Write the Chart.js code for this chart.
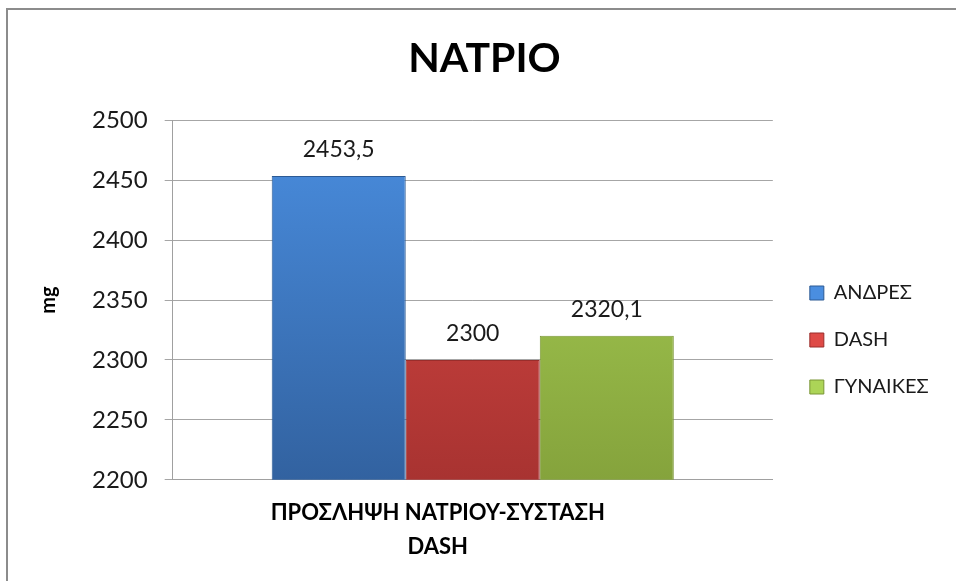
<!DOCTYPE html>
<html>
<head>
<meta charset="utf-8">
<script src="https://cdn.jsdelivr.net/npm/chart.js@4"></script>
<style>
  html, body { margin: 0; padding: 0; background: #fff; overflow: hidden; }
  #frame { position: absolute; left: 6px; top: 8px; width: 1000px; height: 700px; border: 2px solid #8c8c8c; }
  #wrap { position: absolute; left: 0; top: 0; width: 956px; height: 581px; }
</style>
</head>
<body>
<div id="frame"></div>
<div id="wrap"><canvas id="chart1"></canvas></div>
<script>
// data
var categorias = [['ΠΡΟΣΛΗΨΗ ΝΑΤΡΙΟΥ-ΣΥΣΤΑΣΗ', 'DASH']];
var seriesNames = ['ΑΝΔΡΕΣ', 'DASH', 'ΓΥΝΑΙΚΕΣ'];
var andres = [2453.5];
var dash = [2300];
var gynaikes = [2320.1];
var yTicks = [2200, 2250, 2300, 2350, 2400, 2450, 2500];

var topColors = ['#4a8ee0', '#de4a46', '#acd457'];
var botColors = ['#3262a0', '#a83331', '#85a33c'];
var lineColors = ['#2c5a94', '#9a2d2b', '#7a9636'];

function grad(i) {
    return function (ctx) {
        var chart = ctx.chart;
        var area = chart.chartArea;
        if (!area) return topColors[i];
        var g = chart.ctx.createLinearGradient(0, area.top, 0, area.bottom);
        g.addColorStop(0, topColors[i]);
        g.addColorStop(1, botColors[i]);
        return g;
    };
}

// value labels above bars (comma decimals)
const valueLabels = {
    id: 'valueLabels',
    afterDatasetsDraw: function (chart) {
        var c = chart.ctx;
        c.save();
        c.font = '23px Lato';
        c.fillStyle = '#1a1a1a';
        c.textAlign = 'center';
        c.textBaseline = 'bottom';
        chart.data.datasets.forEach(function (ds, i) {
            var meta = chart.getDatasetMeta(i);
            meta.data.forEach(function (bar, j) {
                var txt = String(ds.data[j]).replace('.', ',');
                c.fillText(txt, bar.x, bar.y - 15);
            });
        });
        c.restore();
    }
};

const dat = {
    labels: categorias,
    datasets: [
        { label: seriesNames[0], data: andres, backgroundColor: grad(0), borderColor: lineColors[0], borderWidth: 1 },
        { label: seriesNames[1], data: dash, backgroundColor: grad(1), borderColor: lineColors[1], borderWidth: 1 },
        { label: seriesNames[2], data: gynaikes, backgroundColor: grad(2), borderColor: lineColors[2], borderWidth: 1 }
    ]
};

const config = {
    type: 'bar',
    data: dat,
    plugins: [valueLabels],
    options: {
        responsive: true,
        maintainAspectRatio: false,
        animation: false,
        layout: { padding: { left: 37, right: 24, top: 0, bottom: 1 } },
        datasets: { bar: { categoryPercentage: 0.67, barPercentage: 1 } },
        plugins: {
            title: {
                display: true,
                text: 'ΝΑΤΡΙΟ',
                color: '#000',
                font: { family: 'Lato', size: 41, weight: 'bold' },
                padding: { top: 34, bottom: 37 }
            },
            legend: {
                position: 'right',
                title: {
                    display: true,
                    text: ' ',
                    font: { size: 10 },
                    padding: 44
                },
                labels: {
                    color: '#1a1a1a',
                    font: { family: 'Lato', size: 20 },
                    boxWidth: 14,
                    boxHeight: 14,
                    padding: 27,
                    generateLabels: function (chart) {
                        return chart.data.datasets.map(function (ds, i) {
                            return {
                                text: ds.label,
                                fillStyle: topColors[i],
                                strokeStyle: lineColors[i],
                                fontColor: '#1a1a1a',
                                lineWidth: 1,
                                datasetIndex: i
                            };
                        });
                    }
                }
            },
            tooltip: { enabled: false }
        },
        scales: {
            x: {
                grid: { display: false, drawTicks: false },
                border: { display: true, color: '#a0a0a0' },
                ticks: {
                    color: '#000',
                    font: { family: 'Lato', size: 22, weight: 'bold', lineHeight: 1.55 },
                    padding: 16,
                    labelOffset: -35,
                    maxRotation: 0
                }
            },
            y: {
                min: 2200,
                max: 2500,
                afterBuildTicks: function (axis) {
                    axis.ticks = yTicks.map(function (v) { return { value: v }; });
                },
                grid: { color: '#a6a6a6', lineWidth: 1, tickLength: 8 },
                border: { display: true, color: '#a0a0a0' },
                ticks: {
                    color: '#1a1a1a',
                    font: { family: 'Lato', size: 24 },
                    padding: 17,
                    callback: function (v) { return String(v); }
                },
                title: {
                    display: true,
                    text: 'mg',
                    color: '#000',
                    font: { family: 'Lato', size: 20, weight: 'bold' },
                    padding: { top: 0, bottom: 14 }
                }
            },
            // empty spacer between plot and legend
            gap: {
                type: 'linear',
                position: 'right',
                grid: { display: false },
                border: { display: false },
                ticks: { display: false },
                afterFit: function (s) { s.width = 10; }
            }
        }
    }
};

const myChart = new Chart(document.getElementById('chart1'), config);
</script>
</body>
</html>
